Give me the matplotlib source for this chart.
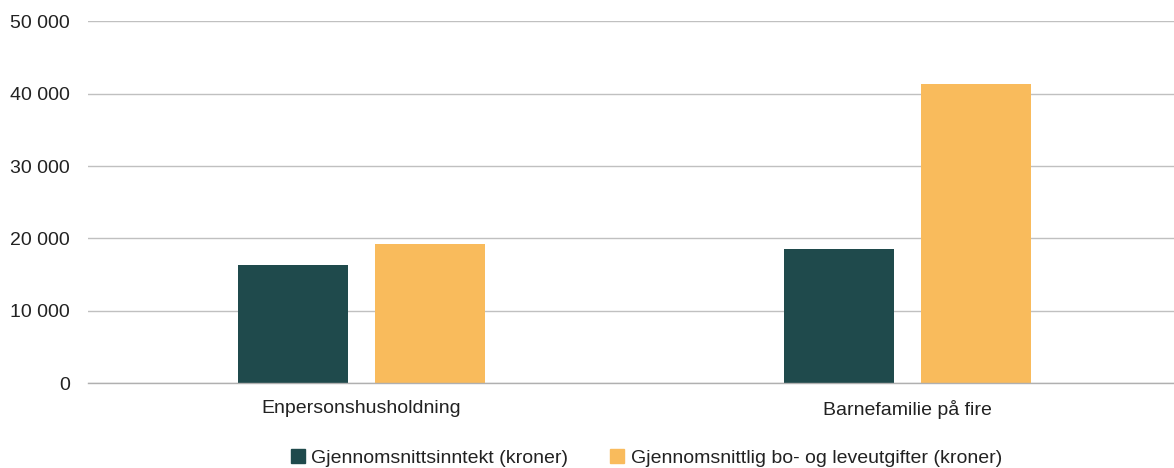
import matplotlib
matplotlib.use("Agg")
import matplotlib.pyplot as plt
import numpy as np
from matplotlib.ticker import FuncFormatter
from matplotlib.lines import Line2D

categories = ["Enpersonshusholdning", "Barnefamilie på fire"]
series_names = ["Gjennomsnittsinntekt (kroner)", "Gjennomsnittlig bo- og leveutgifter (kroner)"]
income = [16300, 18550]
expenses = [19250, 41300]
yticks = [0, 10000, 20000, 30000, 40000, 50000]

colors = ["#1f4a4c", "#f9bb5c"]

plt.rcParams['font.family'] = ['Liberation Sans', 'DejaVu Sans']

fig = plt.figure(figsize=(11.74, 4.68), dpi=100)
ax = fig.add_axes([88/1174, 84.7/468, 1 - 88/1174, 362/468])

x = np.arange(len(categories))
w = 0.2013
off = 0.1253
ax.bar(x - off, income, width=w, color=colors[0], zorder=3)
ax.bar(x + off, expenses, width=w, color=colors[1], zorder=3)

ax.set_xlim(-0.5005, 1.487)
ax.set_ylim(0, 50000)
ax.set_yticks(yticks)
ax.yaxis.set_major_formatter(FuncFormatter(lambda v, p: f"{int(v):,}".replace(",", " ")))
ax.set_xticks(x)
ax.set_xticklabels(categories)
ax.grid(axis='y', color='#c0c0c0', linewidth=1.0, zorder=0)
ax.set_axisbelow(True)
for s in ["top", "right", "left"]:
    ax.spines[s].set_visible(False)
ax.spines["bottom"].set_color("#b0b0b0")
ax.spines["bottom"].set_linewidth(1.0)
ax.spines["bottom"].set_zorder(4)
ax.tick_params(axis='both', length=0, labelsize=14, colors='#222222')
ax.tick_params(axis='y', pad=13)
ax.tick_params(axis='x', pad=12)

handles = [Line2D([0], [0], marker='s', linestyle='none', markersize=10,
                  markerfacecolor=c, markeredgecolor=c) for c in colors]
fig.legend(handles, series_names, loc='center', bbox_to_anchor=(645/1174, 1 - 458/468),
           ncol=2, frameon=False, fontsize=14, handletextpad=0.2, columnspacing=2.0,
           handlelength=1.0, labelcolor='#222222')

fig.savefig("out.png", dpi=100)
